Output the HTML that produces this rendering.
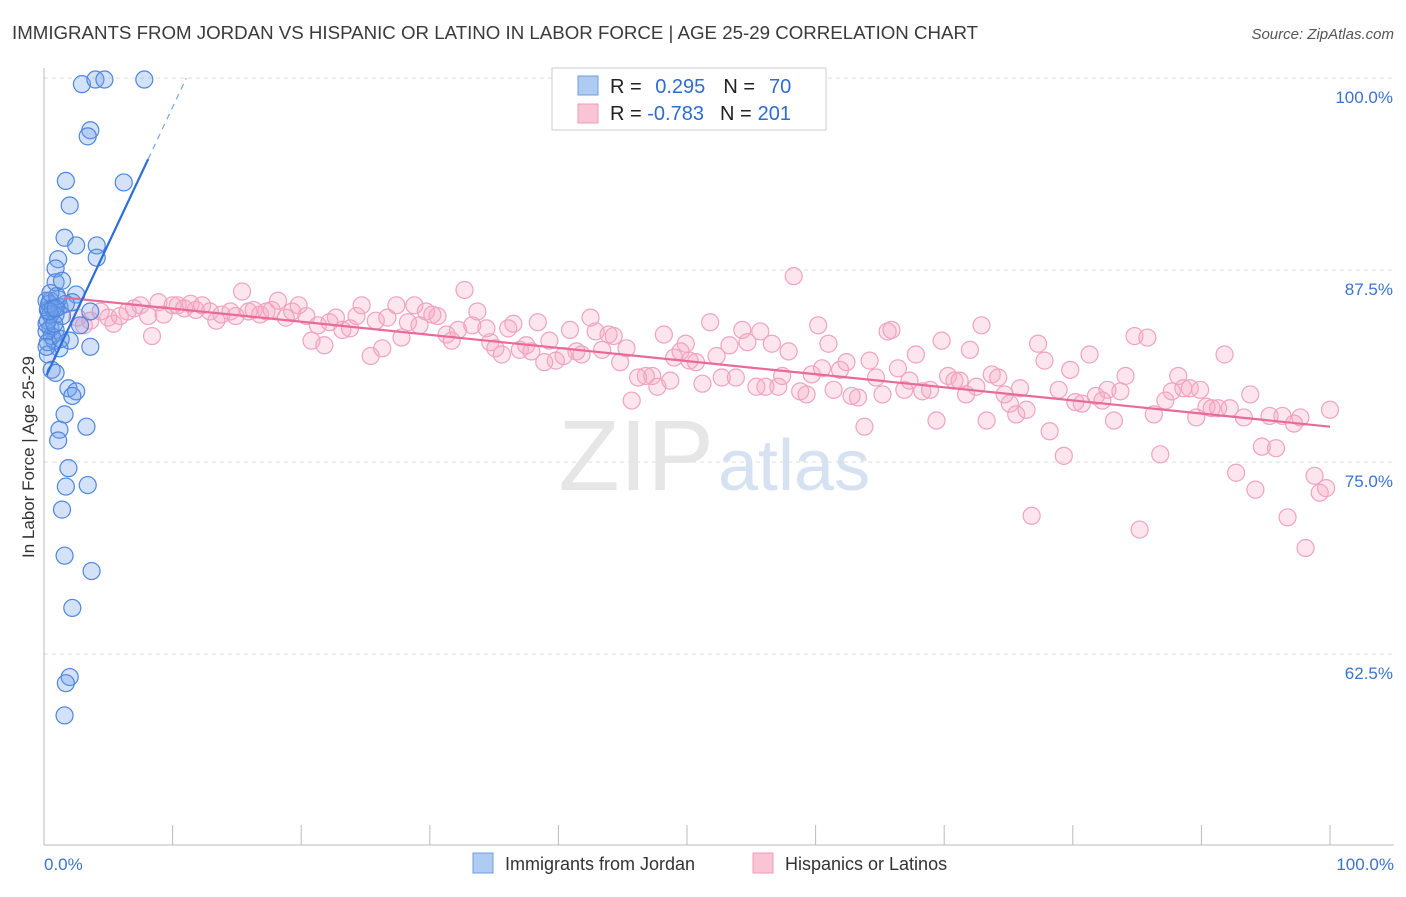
<!DOCTYPE html>
<html><head><meta charset="utf-8">
<style>
body{margin:0;background:#fff;width:1406px;height:892px;overflow:hidden;font-family:"Liberation Sans",sans-serif}
svg text{font-family:"Liberation Sans",sans-serif}
</style></head>
<body>
<svg id="chart" width="1406" height="892">
<text x="12" y="39" font-size="18.7" fill="#3a3a3a">IMMIGRANTS FROM JORDAN VS HISPANIC OR LATINO IN LABOR FORCE | AGE 25-29 CORRELATION CHART</text>
<text x="1394" y="39" font-size="15" fill="#555" font-style="italic" text-anchor="end">Source: ZipAtlas.com</text>
<g id="grid"></g>
<text x="714" y="490" font-size="100" fill="#e6e6e6" text-anchor="end" font-family="Liberation Serif">ZIP</text>
<text x="718" y="490" font-size="72" fill="#d6e2f2">atlas</text>
<g id="pink"></g><g id="blue"></g><g id="lines"></g>
<text transform="translate(34,457) rotate(-90)" font-size="17" fill="#333" text-anchor="middle">In Labor Force | Age 25-29</text>
<text x="44" y="870" font-size="17" fill="#3b73c9">0.0%</text>
<text x="1394" y="870" font-size="17" fill="#3b73c9" text-anchor="end">100.0%</text>
<g>
<rect x="552" y="68" width="274" height="62" fill="#fff" stroke="#ccc"/>
<rect x="578" y="76" width="20" height="19" fill="#aecbf2" stroke="#6f9de0"/>
<rect x="578" y="104" width="20" height="19" fill="#f9c5d5" stroke="#ee9cb6"/>
<text x="610" y="93" font-size="20" fill="#222">R = <tspan fill="#2f6bd0" dx="8">0.295</tspan><tspan fill="#222" dx="18">N =</tspan><tspan fill="#2f6bd0" dx="14">70</tspan></text>
<text x="610" y="120" font-size="20" fill="#222">R = <tspan fill="#2f6bd0" dx="0">-0.783</tspan><tspan fill="#222" dx="16">N =</tspan><tspan fill="#2f6bd0" dx="6">201</tspan></text>
</g>
<g>
<rect x="473" y="853" width="20" height="20" fill="#aecbf2" stroke="#6f9de0"/>
<text x="505" y="870" font-size="18" fill="#333">Immigrants from Jordan</text>
<rect x="753" y="853" width="20" height="20" fill="#f9c5d5" stroke="#ee9cb6"/>
<text x="785" y="870" font-size="18" fill="#333">Hispanics or Latinos</text>
</g>
</svg>
<script>
const yTicks=[100,87.5,75,62.5];
const yTickLabels=["100.0%","87.5%","75.0%","62.5%"];
const xTicks=[0,10,20,30,40,50,60,70,80,90,100];
const blueX=[2.95,4.0,4.7,7.8,3.6,3.4,1.7,6.2,2.0,1.6,4.1,2.5,4.1,1.1,0.9,0.9,1.4,2.5,0.5,1.2,2.2,0.3,3.6,0.9,1.4,2.8,0.5,0.9,2.0,0.8,3.6,1.2,0.3,0.6,0.9,1.9,2.5,2.2,1.6,3.3,1.2,1.1,1.9,1.7,3.4,1.4,1.6,3.7,2.2,2.0,1.7,1.6,0.2,0.3,0.6,0.2,1.1,1.7,0.5,0.2,0.4,0.8,0.3,1.0,0.5,0.7,0.2,1.3,0.4,0.9];
const blueY=[99.6,99.9,99.9,99.9,96.6,96.2,93.3,93.2,91.7,89.6,89.1,89.1,88.3,88.2,87.6,86.7,86.8,85.9,85.5,85.1,85.4,84.9,84.8,84.6,84.5,83.9,83.7,83.6,82.9,82.9,82.5,82.4,82.0,81.0,80.8,79.8,79.6,79.3,78.1,77.3,77.1,76.4,74.6,73.4,73.5,71.9,68.9,67.9,65.5,61.0,60.6,58.5,85.5,84.2,83.2,83.5,85.6,85.3,84.6,84.0,85.3,84.0,82.8,85.8,86.0,85.0,82.5,83.0,84.8,85.0];
const pinkX=[2.6,3.1,3.6,4.4,5.0,5.4,5.9,6.5,7.0,7.5,8.1,8.4,8.9,9.3,10.0,10.4,10.9,11.4,11.8,12.3,12.9,13.4,13.8,14.5,14.9,15.4,15.9,16.3,16.8,17.3,17.7,18.2,18.8,19.3,19.8,20.4,20.8,21.3,21.8,22.2,22.7,23.2,23.8,24.3,24.7,25.4,25.8,26.3,26.7,27.4,27.8,28.3,28.8,29.2,29.7,30.2,30.6,31.3,31.7,32.2,32.7,33.3,33.7,34.4,34.7,35.1,35.6,36.1,36.5,37.0,37.5,37.9,38.4,38.9,39.3,39.8,40.4,40.9,41.4,41.8,42.5,42.9,43.4,43.9,44.3,44.8,45.3,45.7,46.2,46.8,47.3,47.7,48.2,48.7,49.0,49.5,49.9,50.2,50.7,51.2,51.8,52.3,52.7,53.3,53.8,54.3,54.7,55.4,55.7,56.1,56.6,57.1,57.4,57.9,58.3,58.8,59.3,59.7,60.2,60.5,61.0,61.4,61.9,62.4,62.8,63.3,63.8,64.2,64.7,65.2,65.6,65.9,66.4,66.9,67.3,67.8,68.3,68.9,69.4,69.8,70.3,70.8,71.2,71.7,72.0,72.5,72.9,73.3,73.7,74.2,74.7,75.1,75.6,75.9,76.4,76.8,77.3,77.8,78.2,78.9,79.3,79.8,80.2,80.7,81.3,81.8,82.3,82.7,83.2,83.7,84.1,84.8,85.2,85.8,86.3,86.8,87.2,87.7,88.2,88.6,89.1,89.6,89.9,90.4,90.8,91.3,91.8,92.2,92.7,93.3,93.8,94.2,94.7,95.3,95.8,96.3,96.7,97.2,97.7,98.1,98.8,99.2,99.7,100];
const pinkY=[84.4,83.9,84.2,84.8,84.4,84.0,84.5,84.8,85.0,85.2,84.5,83.2,85.4,84.6,85.2,85.2,85.0,85.3,84.9,85.2,84.8,84.2,84.6,84.8,84.5,86.1,84.8,84.9,84.6,84.8,84.9,85.5,84.4,84.8,85.2,84.5,82.9,83.9,82.6,84.1,84.4,83.6,83.7,84.5,85.2,81.9,84.2,82.4,84.4,85.2,83.1,84.1,85.2,83.9,84.8,84.6,84.5,83.3,82.9,83.6,86.2,83.9,84.8,83.7,82.8,82.4,82.0,83.7,84.0,82.3,82.6,82.2,84.1,81.5,82.9,81.6,81.9,83.6,82.2,82.0,84.4,83.5,82.3,83.3,83.2,81.5,82.4,79.0,80.5,80.6,80.6,79.9,83.3,80.3,81.8,82.2,82.7,81.6,81.5,80.1,84.1,81.9,80.5,82.6,80.5,83.6,82.8,79.9,83.5,79.9,82.7,79.9,80.6,82.2,87.1,79.6,79.4,80.7,83.9,81.1,82.7,79.7,81.0,81.5,79.3,79.2,77.3,81.6,80.5,79.4,83.5,83.6,81.1,79.7,80.3,82.0,79.6,79.7,77.7,82.9,80.6,80.3,80.3,79.4,82.3,79.9,83.9,77.7,80.7,80.5,79.4,78.8,78.1,79.8,78.4,71.5,82.7,81.6,77.0,79.7,75.4,81.0,78.9,78.8,82.0,79.3,79.0,79.7,77.7,79.6,80.6,83.2,70.6,83.1,78.1,75.5,79.0,79.6,80.6,79.8,79.8,77.9,79.7,78.6,78.5,78.5,82.0,78.5,74.3,77.9,79.4,73.2,76.0,78.0,75.9,78.0,71.4,77.5,77.9,69.4,74.1,73.0,73.3,78.4];
const blueTrend=[80.3,1.78];   // intercept, slope
const pinkTrend=[85.84,-0.0854];

const NS="http://www.w3.org/2000/svg";
const X0=44,X1=1330,YT=78,YPX=15.36;
const sx=v=>X0+(X1-X0)*v/100;
const sy=v=>YT+(100-v)*YPX;
function mk(tag,attrs,parent){const e=document.createElementNS(NS,tag);for(const k in attrs)e.setAttribute(k,attrs[k]);parent.appendChild(e);return e;}
const grid=document.getElementById('grid');
yTicks.forEach((t,i)=>{
  const l=mk('line',{x1:X0,x2:1394,y1:sy(t),y2:sy(t),stroke:'#ddd','stroke-dasharray':'4,4'},grid);
  
  
  const tx=mk('text',{x:1393,y:sy(t)+25,'font-size':17,fill:'#3b73c9','text-anchor':'end'},grid);
  tx.textContent=yTickLabels[i];
  
  
});
const ax=mk('line',{x1:X0,x2:1394,y1:845,y2:845,stroke:'#bbb'},grid);


const ay=mk('line',{x1:X0,x2:X0,y1:68,y2:845,stroke:'#bbb'},grid);


xTicks.forEach(t=>{
  const l=mk('line',{x1:sx(t),x2:sx(t),y1:825,y2:845,stroke:'#bbb'},grid);
  
  
});
const pg=document.getElementById('pink');
pinkX.forEach((x,i)=>{
  const c=mk('circle',{cx:sx(x),cy:sy(pinkY[i]),r:8.5,fill:'rgba(246,170,196,0.3)',stroke:'#f0a3bd','stroke-width':1.2},pg);
  
  
});
const bg=document.getElementById('blue');
blueX.forEach((x,i)=>{
  const c=mk('circle',{cx:sx(x),cy:sy(blueY[i]),r:8.5,fill:'rgba(110,160,235,0.3)',stroke:'#4f86dc','stroke-width':1.2},bg);
  
  
});
const lg=document.getElementById('lines');
const pl=mk('line',{x1:sx(1.6),y1:sy(pinkTrend[0]+pinkTrend[1]*1.6),x2:sx(100),y2:sy(pinkTrend[0]+pinkTrend[1]*100),stroke:'#e96a98','stroke-width':2.2},lg);


const bl=mk('line',{x1:sx(0.2),y1:sy(blueTrend[0]+blueTrend[1]*0.2),x2:sx(8.1),y2:sy(blueTrend[0]+blueTrend[1]*8.1),stroke:'#2d6fd6','stroke-width':2.2},lg);


const xe=(100-blueTrend[0])/blueTrend[1];
const bd=mk('line',{x1:sx(8.1),y1:sy(blueTrend[0]+blueTrend[1]*8.1),x2:sx(xe),y2:sy(100),stroke:'#7aa6e6','stroke-width':1.2,'stroke-dasharray':'6,5'},lg);


</script>
</body></html>
